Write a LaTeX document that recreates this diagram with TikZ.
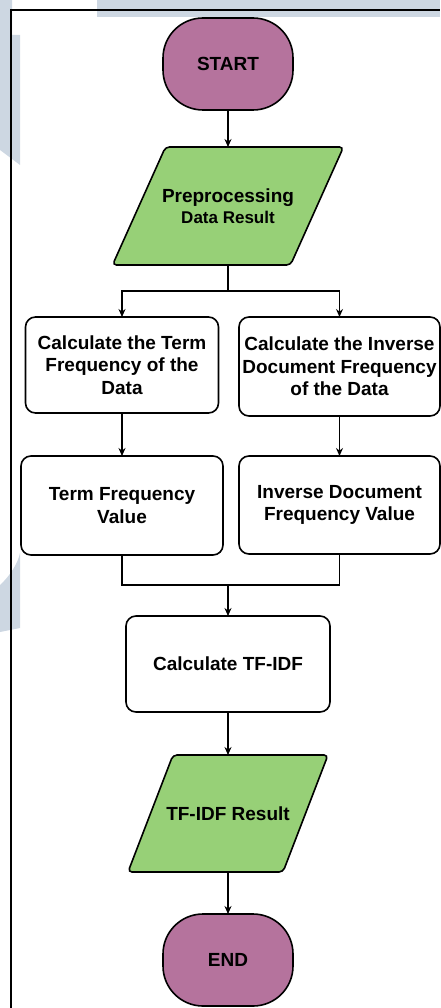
\documentclass[tikz,border=0pt]{standalone}
\usepackage{fontspec}
\setmainfont{Liberation Sans}
\usetikzlibrary{arrows.meta,positioning,backgrounds}

\definecolor{termfill}{HTML}{B5739D}
\definecolor{iofill}{HTML}{97D077}
\definecolor{wmblue}{HTML}{CDD7E2}

\begin{document}
\begin{tikzpicture}[x=1pt,y=-1pt,>={Stealth[length=8pt,width=7pt]}]
	  \tikzstyle{every node}=[font=\bfseries\fontsize{19}{22.5}\selectfont,outer sep=0pt,text=black]
	  \tikzstyle{term}=[draw,line width=1.6pt,fill=termfill,rounded corners=40pt,minimum width=130pt,minimum height=92pt]
	  \tikzstyle{iotext}=[align=center]
	  \tikzstyle{io}=[draw,line width=1.6pt,fill=iofill,rounded corners=4pt]
	  \tikzstyle{process}=[draw,line width=1.6pt,fill=white,rounded corners=10pt,align=center,inner sep=2pt]
	  \tikzstyle{flow}=[line width=1.1pt]

	  \useasboundingbox (0,0) rectangle (440,1008);

	  % watermark pieces behind the frame
	  \fill[wmblue] (97,0) rectangle (440,17);
	  \fill[wmblue] (0,0) -- (12,0) -- (12,35) -- (20,35) -- (20,165) -- (0,150) -- cycle;
	  \fill[wmblue] (0,585) .. controls (10,576) and (18,563) .. (20,553) -- (20,628) -- (0,632) -- cycle;

	  % frame
	  \draw[line width=1.4pt] (11,1008) -- (11,10) -- (440,10);

	  \node[term] (S) at (228,64) {START};
	  \node[iotext] (P) [below=37pt of S,minimum width=178pt,minimum height=118pt]
	    {Preprocessing\\[-2pt]{\fontsize{17}{20}\selectfont Data Result}};

	  \node[process] (L1) at (122,365) [minimum width=193pt,minimum height=96pt]
	    {Calculate the Term\\Frequency of the\\Data};
	  \node[process] (R1) at (339.5,366.5) [minimum width=201pt,minimum height=99pt]
	    {Calculate the Inverse\\Document Frequency\\of the Data};
	  \node[process] (L2) [below=43pt of L1,minimum width=202pt,minimum height=99pt]
	    {Term Frequency\\Value};
	  \node[process] (R2) [below=40pt of R1,minimum width=201pt,minimum height=98pt]
	    {Inverse Document\\Frequency Value};

	  \node[process] (T) at (228,664) [minimum width=204pt,minimum height=96pt] {Calculate TF-IDF};
	  \node[iotext] (D) [below=43pt of T,minimum width=155pt,minimum height=117pt] {TF-IDF Result};
	  \node[term] (E) [below=42pt of D] {END};

	  % slanted data boxes, drawn under their text
	  \begin{scope}[on background layer]
	    \draw[io] ([xshift=-26.5pt]P.south west) -- ([xshift=-26.5pt]P.south east)
	      -- ([xshift=26.5pt]P.north east) -- ([xshift=26.5pt]P.north west) -- cycle;
	    \draw[io] ([xshift=-22.5pt]D.south west) -- ([xshift=-22.5pt]D.south east)
	      -- ([xshift=22.5pt]D.north east) -- ([xshift=22.5pt]D.north west) -- cycle;
	  \end{scope}

	  \coordinate (split) at (228,291);
	  \coordinate (join) at (228,585);

	  \draw[flow,->] (S) -- (P);
	  \draw[flow] (P.south) -- (split);
	  \draw[flow,->] (split) -| (L1);
	  \draw[flow,->] (split) -| (R1);
	  \draw[flow,->] (L1) -- (L2);
	  \draw[flow,->] (R1) -- (R2);
	  \draw[flow] (L2.south) |- (join) -| (R2.south);
	  \draw[flow,->] (join) -- (T);
	  \draw[flow,->] (T) -- (D);
	  \draw[flow,->] (D) -- (E);
	\end{tikzpicture}
\end{document}
